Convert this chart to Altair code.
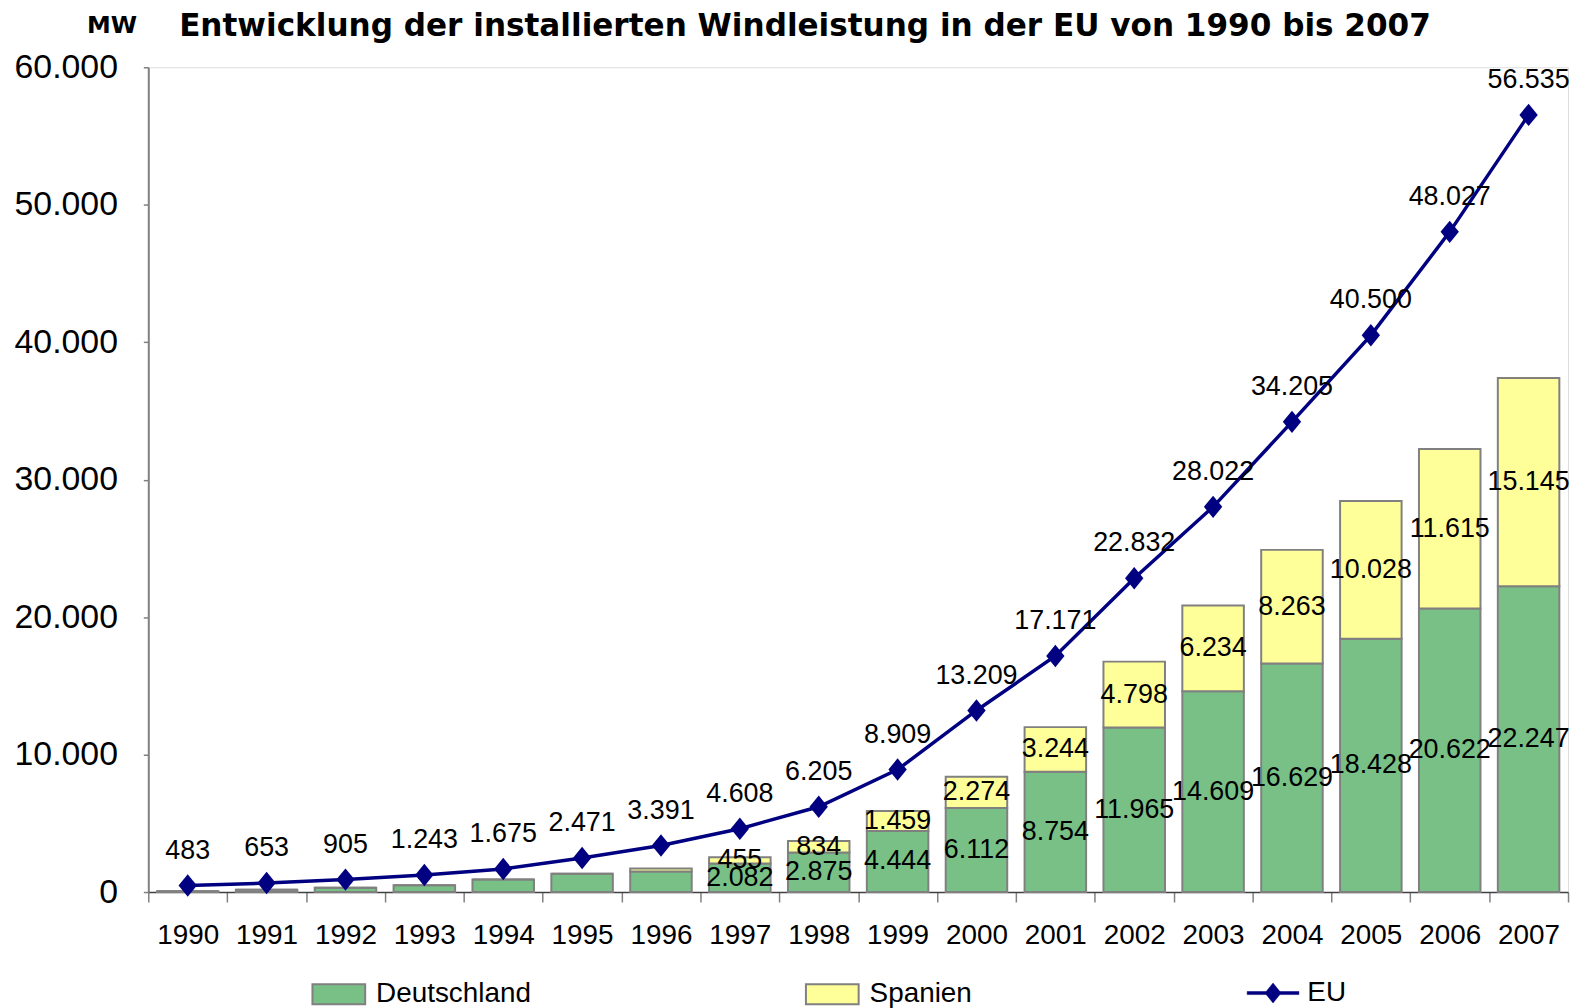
import altair as alt
import pandas as pd

years = [str(y) for y in range(1990, 2008)]
deutschland = [60, 175, 320, 490, 915, 1330, 1500, 2082, 2875, 4444, 6112, 8754,
               11965, 14609, 16629, 18428, 20622, 22247]
spanien = [0, 0, 0, 0, 0, 0, 220, 455, 834, 1459, 2274, 3244,
           4798, 6234, 8263, 10028, 11615, 15145]
eu = [483, 653, 905, 1243, 1675, 2471, 3391, 4608, 6205, 8909, 13209, 17171,
      22832, 28022, 34205, 40500, 48027, 56535]
first_labelled_year = 1997

title_text = "Entwicklung der installierten Windleistung in der EU von 1990 bis 2007"
GREEN = "#78C086"
YELLOW = "#FFFF99"
NAVY = "#000080"
FONT = "Liberation Sans"

rows = []
for i, y in enumerate(years):
    rows.append({"year": y, "series": "Deutschland", "value": deutschland[i], "ord": 0,
                 "show": int(y) >= first_labelled_year})
    rows.append({"year": y, "series": "Spanien", "value": spanien[i], "ord": 1,
                 "show": int(y) >= first_labelled_year})
bar_df = pd.DataFrame(rows)
line_df = pd.DataFrame({"year": years, "value": eu, "line_series": ["EU"] * len(years)})
title_df = pd.DataFrame({"t": [title_text]})

fmt = "replace(format(datum.value, ','), ',', '.')"

x_enc = alt.X("year:N", sort=years,
              scale=alt.Scale(paddingInner=0, paddingOuter=0),
              axis=alt.Axis(title=None, labelAngle=0, tickBand="extent",
                            labelFont=FONT, labelFontSize=28, labelColor="black",
                            tickSize=10, tickColor="#808080", tickWidth=1.5,
                            domainColor="#404040", domainWidth=1.5,
                            labelPadding=20, grid=False))

y_scale = alt.Scale(domain=[0, 60000])
y_axis = alt.Axis(values=[0, 10000, 20000, 30000, 40000, 50000, 60000],
                  labelExpr=fmt, labelFont=FONT, labelFontSize=34, labelColor="black",
                  tickSize=5, tickColor="#808080", tickWidth=1.5,
                  domainColor="#808080", domainWidth=2, labelPadding=26, grid=False,
                  title="MW", titleAngle=0, titleFont="DejaVu Sans", titleFontSize=24,
                  titleFontWeight="bold", titleColor="black", titleAlign="center",
                  titleBaseline="alphabetic", titleX=-37, titleY=-35)

bar_path = "M-1,-0.377H1V0.377H-1Z"
eu_path = "M-1,-0.06H1V0.06H-1Z M0,-0.385L0.31,0L0,0.385L-0.31,0Z"
diamond = "M0,-1.1L0.9,0L0,1.1L-0.9,0Z"

bars = alt.Chart(bar_df).mark_bar(stroke="#808080", strokeWidth=2, width={"band": 0.78}).encode(
    x=x_enc,
    y=alt.Y("value:Q", stack="zero", scale=y_scale, axis=y_axis),
    fill=alt.Fill("series:N",
                  scale=alt.Scale(domain=["Deutschland", "Spanien"], range=[GREEN, YELLOW]),
                  legend=alt.Legend(title=None, orient="none", direction="horizontal",
                                    legendX=164, legendY=904, columnPadding=272,
                                    labelFont=FONT, labelFontSize=28, labelColor="black",
                                    labelOffset=10, symbolType=bar_path, symbolSize=2809,
                                    symbolStrokeColor="#808080", symbolStrokeWidth=2)),
    order=alt.Order("ord:Q"),
)

bar_labels = alt.Chart(bar_df).transform_stack(
    stack="value", groupby=["year"], sort=[alt.SortField("ord")], as_=["y0", "y1"]
).transform_calculate(
    mid="(datum.y0 + datum.y1) / 2", label=fmt
).transform_filter("datum.show").mark_text(
    font=FONT, fontSize=27, color="black", baseline="middle", align="center"
).encode(
    x=alt.X("year:N", sort=years),
    y=alt.Y("mid:Q", scale=y_scale),
    text="label:N",
)

line = alt.Chart(line_df).mark_line(strokeWidth=3.5).encode(
    x=alt.X("year:N", sort=years),
    y=alt.Y("value:Q", scale=y_scale),
    stroke=alt.Stroke("line_series:N", scale=alt.Scale(domain=["EU"], range=[NAVY]),
                      legend=alt.Legend(title=None, orient="none", legendX=1104, legendY=904,
                                        labelFont=FONT, labelFontSize=28, labelColor="black",
                                        labelOffset=8, symbolType=eu_path, symbolSize=2704,
                                        symbolFillColor=NAVY, symbolStrokeWidth=0.5)),
)

points = alt.Chart(line_df).mark_point(shape=diamond, filled=True, size=420, color=NAVY, opacity=1).encode(
    x=alt.X("year:N", sort=years),
    y=alt.Y("value:Q", scale=y_scale),
)

eu_labels = alt.Chart(line_df).transform_calculate(label=fmt).mark_text(
    font=FONT, fontSize=27, color="black", baseline="middle", align="center", dy=-35
).encode(
    x=alt.X("year:N", sort=years),
    y=alt.Y("value:Q", scale=y_scale),
    text="label:N",
)

title = alt.Chart(title_df).mark_text(
    font="DejaVu Sans", fontSize=31.25, fontWeight="bold", color="black",
    align="left", baseline="alphabetic"
).encode(text="t:N", x=alt.value(31), y=alt.value(-31))

chart = alt.layer(bars, line, points, eu_labels, bar_labels, title).properties(
    width=1427, height=829,
    autosize=alt.AutoSizeParams(type="none"),
    padding={"left": 141, "top": 57, "right": 6, "bottom": 120},
).configure_view(stroke=None).configure(background="white")

chart.save("out.html", embed_options={"renderer": "svg", "actions": False})
